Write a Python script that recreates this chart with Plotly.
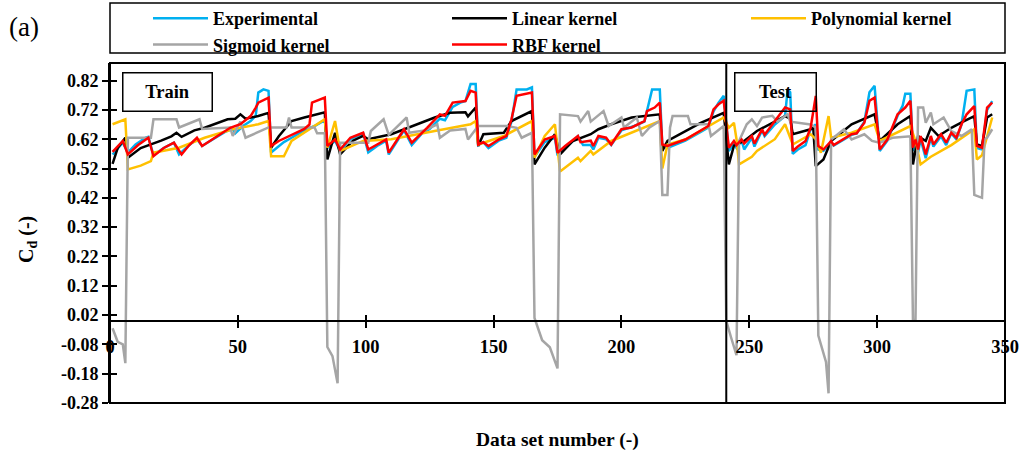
import plotly.graph_objects as go

# ---------------- data ----------------
exp_x = [1,3,5,7,10,14,15,17,21,25,27,31,34,36,41,45,48,49,52,55,57,58,60,62,
         63,65,68,70,73,76,80,84,
         85,88,90,94,99,101,105,108,109,113,115,118,122,125,129,131,134,137,139,141,143,
         144,146,148,152,155,157,159,163,165,
         166,170,174,175,178,183,185,188,189,191,194,196,200,205,209,210,212,215,
         216,218,225,231,234,236,238,240,
         242,244,245,247,248,251,252,255,256,260,264,265,266,
         267,269,272,274,276,
         277,279,282,283,290,292,295,297,299,
         301,304,308,310,311,313,
         314,315,316,317,319,321,322,325,327,329,331,333,335,338,
         339,341,343,345]
exp_y = [.568,.59,.608,.574,.602,.625,.628,.565,.59,.608,.568,.60,.62,.597,.625,.645,.655,.64,.665,.682,.70,.779,.79,.785,
         .575,.59,.61,.62,.635,.65,.665,.685,
         .59,.615,.58,.62,.64,.575,.60,.615,.568,.62,.65,.60,.64,.655,.69,.685,.73,.745,.75,.808,.808,
         .60,.61,.59,.615,.625,.68,.79,.79,.797,
         .56,.61,.625,.565,.59,.63,.60,.60,.585,.625,.62,.60,.65,.665,.68,.72,.79,.79,
         .595,.59,.615,.645,.66,.715,.745,.768,
         .58,.605,.59,.615,.585,.625,.595,.65,.63,.67,.70,.79,.78,
         .57,.585,.60,.655,.67,
         .585,.58,.61,.598,.635,.64,.68,.78,.802,
         .58,.615,.70,.735,.775,.775,
         .58,.61,.575,.62,.555,.625,.595,.63,.60,.64,.62,.67,.785,.79,
         .59,.585,.72,.75]

lin_x = [1,3,6,7,12,16,20,24,26,28,33,37,42,46,49,51,53,58,62,
         63,66,71,76,84,
         85,88,90,95,99,101,110,118,127,133,139,140,143,
         144,146,154,157,165,
         166,170,174,176,181,188,191,196,204,215,
         216,218,225,231,240,
         242,244,248,253,260,264,266,
         267,274,275,
         276,279,282,290,299,
         301,308,313,
         314,316,319,321,324,329,334,338,
         339,341,343,345]
lin_y = [.536,.59,.625,.557,.59,.602,.615,.63,.642,.628,.65,.659,.675,.688,.69,.705,.69,.699,.71,
         .591,.63,.682,.694,.712,
         .551,.642,.568,.615,.631,.62,.637,.665,.694,.71,.712,.698,.728,
         .597,.637,.642,.682,.716,
         .534,.591,.637,.568,.614,.637,.654,.671,.694,.705,
         .58,.614,.648,.676,.71,
         .534,.598,.614,.648,.682,.699,.69,
         .637,.654,.66,
         .528,.551,.614,.671,.705,
         .614,.671,.699,
         .534,.631,.614,.659,.631,.659,.682,.699,
         .602,.597,.694,.705]

poly_x = [1,6,7,12,16,17,27,37,48,58,62,
          63,68,71,84,
          85,88,90,99,110,127,141,143,
          144,154,165,
          166,170,174,176,183,184,188,189,196,204,215,
          216,218,225,231,240,
          242,244,245,246,251,253,260,264,
          267,274,276,278,281,282,
          290,299,
          301,313,
          315,317,321,329,338,
          339,341,345]
poly_y = [.671,.688,.517,.53,.545,.574,.591,.625,.654,.671,.682,
          .562,.562,.614,.688,
          .591,.682,.58,.614,.62,.648,.671,.682,
          .602,.631,.682,
          .557,.631,.671,.51,.557,.545,.58,.568,.614,.642,.682,
          .52,.602,.619,.648,.694,
          .659,.676,.62,.534,.56,.58,.62,.671,
          .602,.637,.62,.574,.699,.625,
          .642,.671,
          .614,.665,
          .614,.534,.56,.60,.654,
          .551,.565,.694]

sig_x = [1,3,5,6,7,16,17,26,27,35,36,47,48,51,53,62,69,70,71,80,81,84,
         85,87,89,90,101,102,107,109,116,117,123,128,129,133,139,140,144,155,159,161,165,
         166,169,172,175,176,183,184,187,188,193,195,200,201,206,208,211,215,
         216,218,219,220,226,227,234,235,240,
         241,243,245,246,249,251,253,255,259,261,265,266,274,276,
         277,280,281,282,287,290,295,298,301,306,313,
         314,315,316,318,319,321,322,326,329,333,337,
         338,341,342,343,345]
sig_y = [-.025,-.071,-.08,-.144,.625,.625,.688,.688,.66,.688,.655,.66,.631,.68,.625,.66,.66,.694,.66,.66,.64,.64,
         -.089,-.12,-.213,.608,.608,.648,.688,.635,.694,.642,.65,.671,.625,.65,.655,.619,.665,.665,.659,.625,.642,
         .01,-.066,-.09,-.162,.705,.699,.68,.716,.68,.716,.665,.694,.66,.694,.631,.66,.682,
         .43,.43,.659,.699,.699,.671,.671,.631,.665,
         .0,-.06,-.117,.614,.671,.688,.665,.694,.70,.68,.705,.68,.67,.66,
         -.05,-.14,-.247,.619,.654,.619,.637,.614,.608,.625,.63,
         .003,.003,.728,.728,.676,.711,.671,.694,.648,.631,.654,
         .43,.42,.619,.625,.654]

rbf_x = [1,3,5,7,11,15,17,21,25,28,31,34,36,41,45,47,51,55,57,58,62,
         63,66,70,76,78,79,84,
         85,88,90,94,99,101,108,109,115,118,124,129,131,134,139,141,143,
         144,146,148,152,155,157,159,165,
         166,170,174,175,178,183,184,188,189,191,194,196,200,204,209,210,213,215,
         216,218,225,231,234,236,238,240,
         242,244,245,247,248,251,252,255,256,260,264,266,
         267,269,272,274,276,
         277,279,282,283,290,292,295,297,299,
         301,304,308,311,313,
         314,315,316,317,319,321,322,325,327,329,331,333,335,338,
         339,341,343,345]
rbf_y = [.577,.595,.614,.568,.60,.625,.562,.59,.608,.568,.60,.625,.597,.625,.648,.659,.671,.699,.728,.745,.762,
         .597,.614,.631,.655,.67,.745,.762,
         .597,.619,.585,.625,.642,.585,.619,.574,.654,.608,.659,.705,.70,.745,.75,.785,.779,
         .602,.61,.597,.619,.631,.688,.768,.779,
         .568,.619,.631,.574,.597,.631,.61,.615,.597,.631,.625,.602,.654,.66,.682,.716,.728,.745,
         .602,.597,.619,.648,.665,.722,.739,.751,
         .591,.614,.60,.619,.605,.631,.605,.654,.635,.682,.728,.722,
         .58,.595,.614,.659,.768,
         .597,.585,.614,.60,.637,.64,.676,.751,.762,
         .585,.619,.705,.728,.751,
         .591,.619,.585,.631,.568,.631,.602,.637,.608,.642,.625,.671,.705,.733,
         .597,.591,.728,.745]

series = [
    ("Experimental", exp_x, exp_y, "#00B0F0"),
    ("Linear kernel", lin_x, lin_y, "#000000"),
    ("Polynomial kernel", poly_x, poly_y, "#FFC000"),
    ("Sigmoid kernel", sig_x, sig_y, "#A5A5A5"),
    ("RBF kernel", rbf_x, rbf_y, "#FF0000"),
]

x_ticks = [0, 50, 100, 150, 200, 250, 300, 350]
y_ticks = [-0.28, -0.18, -0.08, 0.02, 0.12, 0.22, 0.32, 0.42, 0.52, 0.62, 0.72, 0.82]
y_tick_text = ["-0.28", "-0.18", "-0.08", "0.02", "0.12", "0.22", "0.32", "0.42", "0.52", "0.62", "0.72", "0.82"]
TRAIN_TEST_SPLIT = 241
X_RANGE = [0, 350]
Y_RANGE = [-0.28, 0.88]

# ---------------- figure ----------------
FONT = "Liberation Serif"
fig = go.Figure()
for name, xs, ys, col in series:
    fig.add_trace(go.Scatter(x=xs, y=ys, mode="lines", name=name,
                             line=dict(color=col, width=2.5)))
# helper trace so the overlay axes (cross tick marks) are drawn
fig.add_trace(go.Scatter(x=[None], y=[None], xaxis="x2", yaxis="y2",
                         showlegend=False, hoverinfo="skip"))

xpos = (0 - Y_RANGE[0]) / (Y_RANGE[1] - Y_RANGE[0])

fig.update_layout(
    width=1021, height=457,
    margin=dict(l=110, r=16, t=63, b=54, autoexpand=False),
    paper_bgcolor="white", plot_bgcolor="white",
    xaxis=dict(range=X_RANGE, tickvals=x_ticks, showgrid=False, zeroline=False,
               showline=True, linecolor="black", linewidth=2,
               anchor="free", position=xpos,
               ticks="outside", ticklen=6, tickwidth=1.5, tickcolor="black",
               ticklabelstandoff=3,
               tickfont=dict(family=FONT, size=18.5, color="black", weight="bold")),
    xaxis2=dict(range=X_RANGE, tickvals=x_ticks, overlaying="x", anchor="free",
                position=xpos, showgrid=False, zeroline=False, showline=False,
                ticks="inside", ticklen=6, tickwidth=1.5, tickcolor="black",
                showticklabels=False),
    yaxis=dict(range=Y_RANGE, tickvals=y_ticks, ticktext=y_tick_text,
               showgrid=False, zeroline=False, showline=True, linecolor="black",
               linewidth=2, ticks="outside", ticklen=6, tickwidth=1.5,
               tickcolor="black",
               tickfont=dict(family=FONT, size=18, color="black", weight="bold")),
    yaxis2=dict(range=Y_RANGE, tickvals=y_ticks, overlaying="y", anchor="free",
                position=0, side="left", showgrid=False, zeroline=False,
                showline=False, ticks="inside", ticklen=6, tickwidth=1.5,
                tickcolor="black", showticklabels=False),
    legend=dict(orientation="h", xref="container", yref="container",
                x=148 / 1021, y=1, xanchor="left", yanchor="top",
                entrywidth=229, itemwidth=55,
                font=dict(family=FONT, size=18, color="black", weight="bold"),
                bgcolor="rgba(0,0,0,0)", borderwidth=0, tracegroupgap=0),
    showlegend=True,
)

# frame of plot area, legend box, train/test divider
fig.add_shape(type="rect", xref="x domain", yref="y domain", x0=0, x1=1, y0=0, y1=1,
              line=dict(color="black", width=2))
fig.add_shape(type="line", xref="x", yref="y domain", x0=TRAIN_TEST_SPLIT, x1=TRAIN_TEST_SPLIT,
              y0=0, y1=1, line=dict(color="black", width=2))
fig.add_shape(type="rect", xref="x domain", yref="y domain", x0=0, x1=1,
              y0=(403 - 53) / 340, y1=(403 - 3) / 340, line=dict(color="black", width=1.5))

ann_font = dict(family=FONT, size=18.5, color="black", weight="bold")
fig.add_annotation(text="Train", xref="x domain", yref="y domain", x=(122 - 110) / 895,
                   y=(403 - 72) / 340, xanchor="left", yanchor="top", showarrow=False,
                   width=88, height=37, borderpad=0, bordercolor="black", borderwidth=1.5,
                   bgcolor="rgba(0,0,0,0)", font=ann_font)
fig.add_annotation(text="Test", xref="x domain", yref="y domain", x=(734 - 110) / 895,
                   y=(403 - 72) / 340, xanchor="left", yanchor="top", showarrow=False,
                   width=80, height=37, borderpad=0, bordercolor="black", borderwidth=1.5,
                   bgcolor="rgba(0,0,0,0)", font=ann_font)
fig.add_annotation(text="Data set number (-)", xref="x domain", yref="paper", x=0.5,
                   y=(403 - 440) / 340, xanchor="center", yanchor="middle", showarrow=False,
                   font=dict(family=FONT, size=19.5, color="black", weight="bold"))
fig.add_annotation(text="C<sub>d</sub> (-)", xref="paper", yref="paper", x=(28 - 110) / 895,
                   y=(403 - 240) / 340, xanchor="center", yanchor="middle", textangle=-90,
                   showarrow=False, font=dict(family=FONT, size=20, color="black", weight="bold"))
fig.add_annotation(text="(a)", xref="paper", yref="paper", x=(7 - 110) / 895,
                   y=(403 - 27) / 340, xanchor="left", yanchor="middle", showarrow=False,
                   font=dict(family=FONT, size=27, color="black"))

fig.write_html("out.html")
